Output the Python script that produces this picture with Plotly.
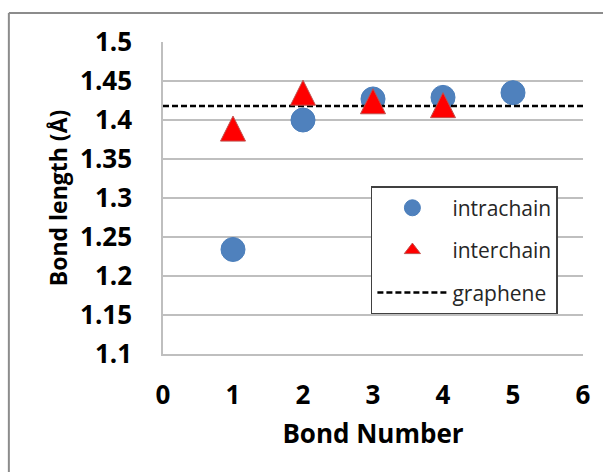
import plotly.graph_objects as go

# Bond lengths (Å) per bond number
bond_number = [1, 2, 3, 4, 5]
intrachain = [1.234, 1.400, 1.427, 1.429, 1.435]
interchain_bonds = [1, 2, 3, 4]
interchain = [1.389, 1.435, 1.424, 1.419]
graphene_length = 1.418
x_span = [0, 6]

y_ticks = [1.1, 1.15, 1.2, 1.25, 1.3, 1.35, 1.4, 1.45, 1.5]
y_ticklabels = ["1.1", "1.15", "1.2", "1.25", "1.3", "1.35", "1.4", "1.45", "1.5"]
x_ticks = [0, 1, 2, 3, 4, 5, 6]

FONT = "Open Sans"
Y_RANGE = [1.1, 1.5]
PLOT_H = 312            # plot-area height in px
TRI_SIZE = 25           # triangle marker size in px

# "arrow-up" markers hang from their apex; an overlaid twin axis offset by
# half the marker height centres each triangle on its value.
half_tri = (TRI_SIZE / 2) * (Y_RANGE[1] - Y_RANGE[0]) / PLOT_H
y2_range = [Y_RANGE[0] - half_tri, Y_RANGE[1] - half_tri]

fig = go.Figure()

fig.add_trace(go.Scatter(
    x=bond_number, y=intrachain, mode="markers", name="intrachain",
    legendgroup="a",
    marker=dict(symbol="circle", size=24, color="#4F81BD",
                line=dict(color="#4A7EBB", width=1)),
))
fig.add_trace(go.Scatter(
    x=interchain_bonds, y=interchain, mode="markers", name="interchain",
    legendgroup="b", showlegend=False, yaxis="y2",
    marker=dict(symbol="arrow-up", size=TRI_SIZE, color="#FF0000",
                line=dict(color="#C0504D", width=1)),
))
# legend entry for the interchain series
fig.add_trace(go.Scatter(
    x=[None], y=[None], mode="markers", name="interchain",
    legendgroup="b",
    marker=dict(symbol="triangle-up", size=14, color="#FF0000",
                line=dict(color="#C0504D", width=1)),
))
fig.add_trace(go.Scatter(
    x=x_span, y=[graphene_length, graphene_length], mode="lines", name="graphene",
    legendgroup="c",
    line=dict(color="black", width=2.5, dash="6px,3px"),
))

fig.update_layout(
    width=603, height=472,
    margin=dict(l=163, r=20, t=42, b=118),
    paper_bgcolor="white", plot_bgcolor="white",
    font=dict(family=FONT, color="black"),
    showlegend=True,
    legend=dict(
        x=0.495, y=0.538, xanchor="left", yanchor="top",
        bgcolor="white", bordercolor="#404040", borderwidth=1.5,
        font=dict(family=FONT, size=21, color="#262626"),
        itemwidth=70, tracegroupgap=12, traceorder="grouped",
    ),
    xaxis=dict(
        range=[0, 6], tickvals=x_ticks, showgrid=False, zeroline=False,
        showline=True, linecolor="#BFBFBF", linewidth=1.5,
        ticks="", ticklabelstandoff=17,
        tickfont=dict(family=FONT, size=26, weight="bold"),
        title=dict(text="Bond Number", standoff=14,
                   font=dict(family=FONT, size=26, weight="bold")),
    ),
    yaxis=dict(
        range=Y_RANGE, tickvals=y_ticks, ticktext=y_ticklabels,
        showgrid=True, gridcolor="#BFBFBF", gridwidth=1.5, zeroline=False,
        showline=True, linecolor="#BFBFBF", linewidth=1.5,
        ticks="", ticklabelstandoff=24,
        tickfont=dict(family=FONT, size=26, weight="bold"),
        title=dict(text="Bond length (Å)", standoff=6,
                   font=dict(family=FONT, size=23, weight="bold")),
    ),
    yaxis2=dict(
        overlaying="y", range=y2_range, visible=False, showgrid=False,
        zeroline=False,
    ),
    shapes=[
        # outer chart frame (left and top edges)
        dict(type="line", xref="paper", yref="paper",
             x0=-0.367, x1=-0.367, y0=-0.6, y1=1.093,
             line=dict(color="#8C8C8C", width=2)),
        dict(type="line", xref="paper", yref="paper",
             x0=-0.367, x1=1.2, y0=1.093, y1=1.093,
             line=dict(color="#8C8C8C", width=2)),
    ],
)

fig.write_html("out.html")
